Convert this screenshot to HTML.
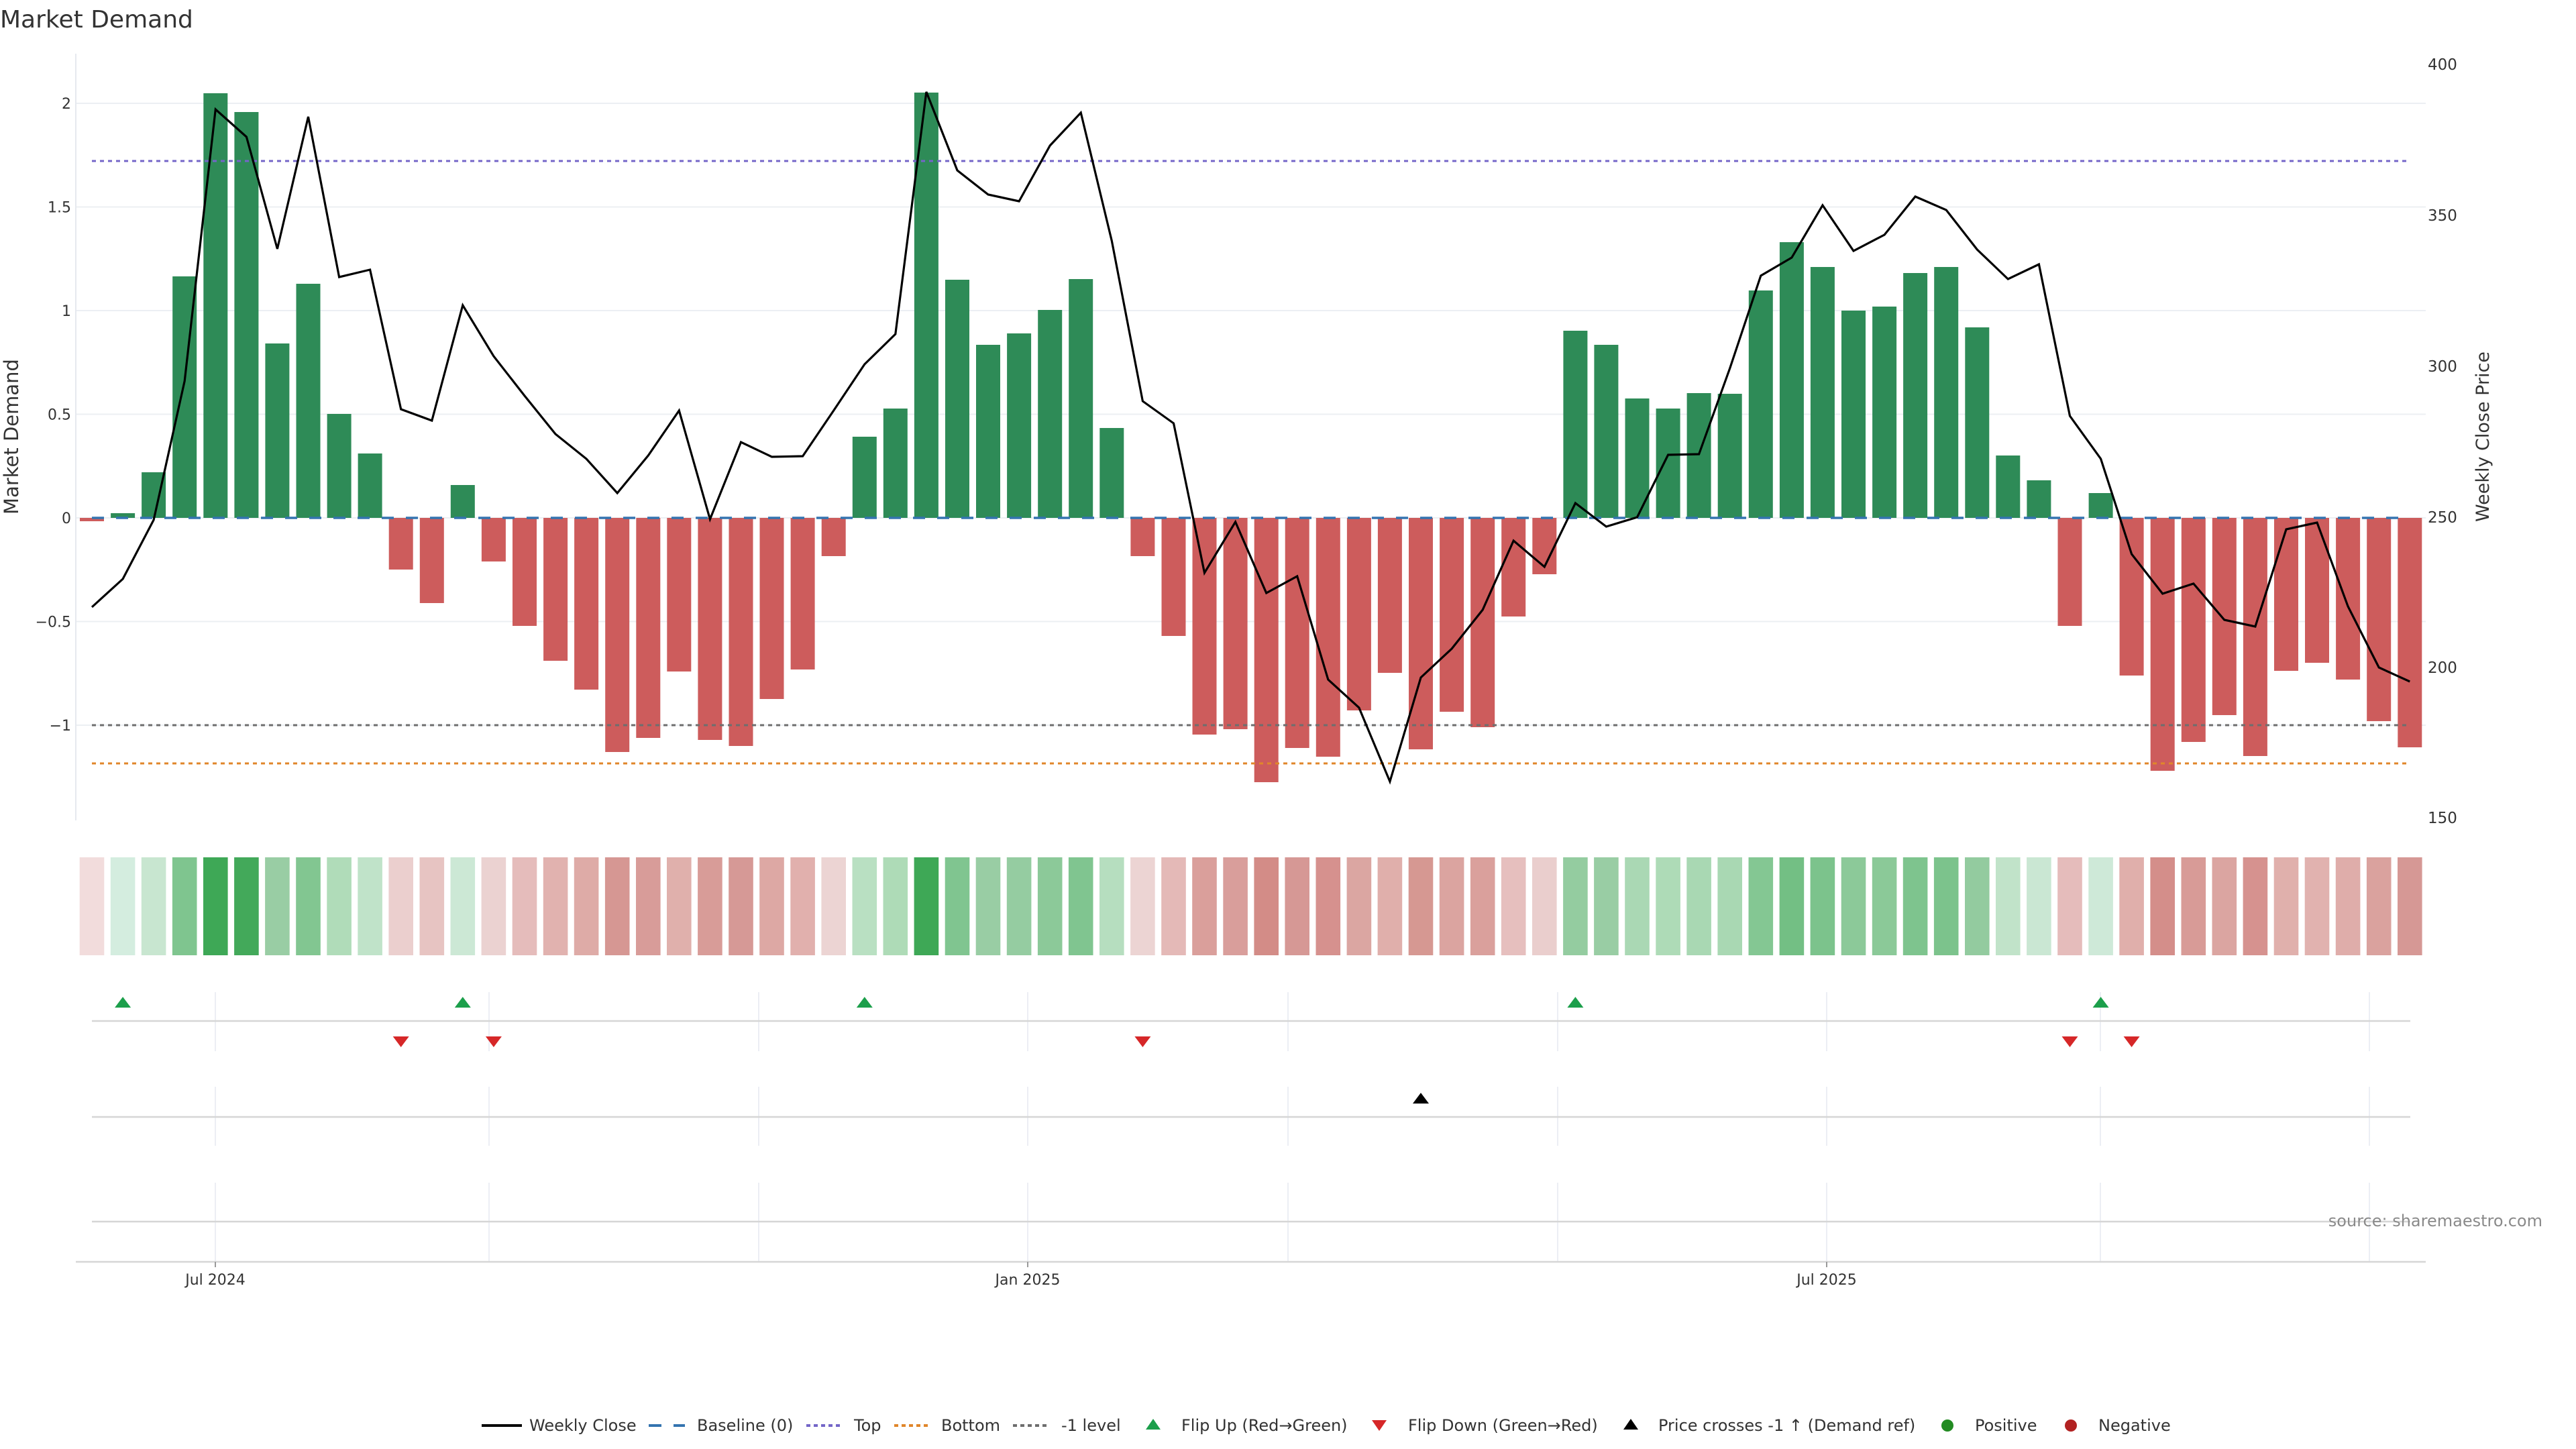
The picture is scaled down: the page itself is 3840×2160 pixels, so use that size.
<!DOCTYPE html>
<html>
<head>
<meta charset="utf-8">
<style>
html,body{margin:0;padding:0;background:#fff;}
svg{display:block;}
text{font-family:"DejaVu Sans","Liberation Sans",sans-serif;fill:#333;}
</style>
</head>
<body>
<svg width="3840" height="2160" viewBox="0 0 3840 2160" xmlns="http://www.w3.org/2000/svg">
<rect x="0" y="0" width="3840" height="2160" fill="#fff"/>

<text x="0" y="41" font-size="36">Market Demand</text>

<g stroke="#eceff3" stroke-width="2">
<line x1="113" y1="154" x2="3616" y2="154"/>
<line x1="113" y1="308.5" x2="3616" y2="308.5"/>
<line x1="113" y1="463" x2="3616" y2="463"/>
<line x1="113" y1="617.5" x2="3616" y2="617.5"/>
<line x1="113" y1="772" x2="3616" y2="772"/>
<line x1="113" y1="926.5" x2="3616" y2="926.5"/>
<line x1="113" y1="1081" x2="3616" y2="1081"/>
</g>
<line x1="113" y1="80" x2="113" y2="1223" stroke="#e6e9ef" stroke-width="2"/>

<g font-size="22" text-anchor="end">
<text x="106" y="162">2</text>
<text x="106" y="316.5">1.5</text>
<text x="106" y="471">1</text>
<text x="106" y="625.5">0.5</text>
<text x="106" y="780">0</text>
<text x="106" y="934.5">−0.5</text>
<text x="106" y="1089">−1</text>
</g>
<text transform="translate(27,651) rotate(-90)" font-size="29" text-anchor="middle">Market Demand</text>

<g font-size="23">
<text x="3619" y="104">400</text>
<text x="3619" y="329">350</text>
<text x="3619" y="554">300</text>
<text x="3619" y="779">250</text>
<text x="3619" y="1003">200</text>
<text x="3619" y="1227">150</text>
</g>
<text transform="translate(3710,651) rotate(-90)" font-size="27" text-anchor="middle">Weekly Close Price</text>

<g fill="#2e8b57">
<rect x="165.1" y="765" width="36" height="7"/>
<rect x="211.1" y="704" width="36" height="68"/>
<rect x="257.2" y="412" width="36" height="360"/>
<rect x="303.3" y="139" width="36" height="633"/>
<rect x="349.4" y="167" width="36" height="605"/>
<rect x="395.4" y="512" width="36" height="260"/>
<rect x="441.5" y="423" width="36" height="349"/>
<rect x="487.6" y="617" width="36" height="155"/>
<rect x="533.6" y="676" width="36" height="96"/>
<rect x="671.8" y="723" width="36" height="49"/>
<rect x="1270.8" y="651" width="36" height="121"/>
<rect x="1316.8" y="609" width="36" height="163"/>
<rect x="1362.9" y="138" width="36" height="634"/>
<rect x="1409.0" y="417" width="36" height="355"/>
<rect x="1455.0" y="514" width="36" height="258"/>
<rect x="1501.1" y="497" width="36" height="275"/>
<rect x="1547.2" y="462" width="36" height="310"/>
<rect x="1593.2" y="416" width="36" height="356"/>
<rect x="1639.3" y="638" width="36" height="134"/>
<rect x="2330.4" y="493" width="36" height="279"/>
<rect x="2376.4" y="514" width="36" height="258"/>
<rect x="2422.5" y="594" width="36" height="178"/>
<rect x="2468.6" y="609" width="36" height="163"/>
<rect x="2514.6" y="586" width="36" height="186"/>
<rect x="2560.7" y="587" width="36" height="185"/>
<rect x="2606.8" y="433" width="36" height="339"/>
<rect x="2652.9" y="361" width="36" height="411"/>
<rect x="2698.9" y="398" width="36" height="374"/>
<rect x="2745.0" y="463" width="36" height="309"/>
<rect x="2791.1" y="457" width="36" height="315"/>
<rect x="2837.1" y="407" width="36" height="365"/>
<rect x="2883.2" y="398" width="36" height="374"/>
<rect x="2929.3" y="488" width="36" height="284"/>
<rect x="2975.3" y="679" width="36" height="93"/>
<rect x="3021.4" y="716" width="36" height="56"/>
<rect x="3113.6" y="735" width="36" height="37"/>
</g>
<g fill="#cd5c5c">
<rect x="119.0" y="772" width="36" height="5"/>
<rect x="579.7" y="772" width="36" height="77"/>
<rect x="625.8" y="772" width="36" height="127"/>
<rect x="717.9" y="772" width="36" height="65"/>
<rect x="764.0" y="772" width="36" height="161"/>
<rect x="810.1" y="772" width="36" height="213"/>
<rect x="856.1" y="772" width="36" height="256"/>
<rect x="902.2" y="772" width="36" height="349"/>
<rect x="948.3" y="772" width="36" height="328"/>
<rect x="994.3" y="772" width="36" height="229"/>
<rect x="1040.4" y="772" width="36" height="331"/>
<rect x="1086.5" y="772" width="36" height="340"/>
<rect x="1132.5" y="772" width="36" height="270"/>
<rect x="1178.6" y="772" width="36" height="226"/>
<rect x="1224.7" y="772" width="36" height="57"/>
<rect x="1685.4" y="772" width="36" height="57"/>
<rect x="1731.5" y="772" width="36" height="176"/>
<rect x="1777.5" y="772" width="36" height="323"/>
<rect x="1823.6" y="772" width="36" height="315"/>
<rect x="1869.7" y="772" width="36" height="394"/>
<rect x="1915.7" y="772" width="36" height="343"/>
<rect x="1961.8" y="772" width="36" height="356"/>
<rect x="2007.9" y="772" width="36" height="287"/>
<rect x="2053.9" y="772" width="36" height="231"/>
<rect x="2100.0" y="772" width="36" height="345"/>
<rect x="2146.1" y="772" width="36" height="289"/>
<rect x="2192.2" y="772" width="36" height="312"/>
<rect x="2238.2" y="772" width="36" height="147"/>
<rect x="2284.3" y="772" width="36" height="84"/>
<rect x="3067.5" y="772" width="36" height="161"/>
<rect x="3159.6" y="772" width="36" height="235"/>
<rect x="3205.7" y="772" width="36" height="377"/>
<rect x="3251.8" y="772" width="36" height="334"/>
<rect x="3297.8" y="772" width="36" height="294"/>
<rect x="3343.9" y="772" width="36" height="355"/>
<rect x="3390.0" y="772" width="36" height="228"/>
<rect x="3436.0" y="772" width="36" height="216"/>
<rect x="3482.1" y="772" width="36" height="241"/>
<rect x="3528.2" y="772" width="36" height="303"/>
<rect x="3574.3" y="772" width="36" height="342"/>
</g>

<line x1="137" y1="240" x2="3593" y2="240" stroke="#7466c8" stroke-width="3" stroke-dasharray="6 6"/>
<line x1="137" y1="1081" x2="3593" y2="1081" stroke="#6e6e6e" stroke-width="3" stroke-dasharray="6 6"/>
<line x1="137" y1="1138" x2="3593" y2="1138" stroke="#e0862a" stroke-width="3" stroke-dasharray="6 6"/>
<line x1="137" y1="772" x2="3593" y2="772" stroke="#3474b0" stroke-width="3.5" stroke-dasharray="18 18"/>

<polyline fill="none" stroke="#000" stroke-width="3.2" points="137,905 183.1,863 229.1,775 275.2,568 321.3,163 367.4,204 413.4,371 459.5,174 505.6,413 551.6,402 597.7,610 643.8,627 689.8,455 735.9,531 782,590 828,647 874.1,684 920.2,735 966.3,679 1012.3,612 1058.4,774 1104.5,659 1150.5,681 1196.6,680 1242.7,612 1288.8,543 1334.8,498 1380.9,137 1427,254 1473,290 1519.1,300 1565.2,217 1611.2,168 1657.3,359 1703.4,598 1749.5,631 1795.5,854 1841.6,778 1887.7,884 1933.7,859 1979.8,1013 2025.9,1055 2071.9,1165 2118,1010 2164.1,967 2210.2,909 2256.2,806 2302.3,845 2348.4,750 2394.4,785 2440.5,771 2486.6,678 2532.6,677 2578.7,549 2624.8,411 2670.9,384 2716.9,306 2763,374 2809.1,350 2855.1,293 2901.2,313 2947.3,372 2993.3,416 3039.4,394 3085.5,620 3131.6,684 3177.6,826 3223.7,885 3269.8,870 3315.8,924 3361.9,934 3408,789 3454,779 3500.1,904 3546.2,995 3592.3,1016"/>

<g>
<rect x="118.7" y="1278" width="36.6" height="146" fill="#f2dcdc"/>
<rect x="164.8" y="1278" width="36.6" height="146" fill="#d4eddf"/>
<rect x="210.8" y="1278" width="36.6" height="146" fill="#c8e6d0"/>
<rect x="256.9" y="1278" width="36.6" height="146" fill="#7fc58f"/>
<rect x="303.0" y="1278" width="36.6" height="146" fill="#3ea856"/>
<rect x="349.1" y="1278" width="36.6" height="146" fill="#43a95a"/>
<rect x="395.1" y="1278" width="36.6" height="146" fill="#99cda4"/>
<rect x="441.2" y="1278" width="36.6" height="146" fill="#82c691"/>
<rect x="487.3" y="1278" width="36.6" height="146" fill="#b0dcb9"/>
<rect x="533.3" y="1278" width="36.6" height="146" fill="#c0e3c9"/>
<rect x="579.4" y="1278" width="36.6" height="146" fill="#ebcfce"/>
<rect x="625.5" y="1278" width="36.6" height="146" fill="#e7c4c2"/>
<rect x="671.5" y="1278" width="36.6" height="146" fill="#cce8d5"/>
<rect x="717.6" y="1278" width="36.6" height="146" fill="#ebd2d1"/>
<rect x="763.7" y="1278" width="36.6" height="146" fill="#e5bcbb"/>
<rect x="809.8" y="1278" width="36.6" height="146" fill="#e1b2af"/>
<rect x="855.8" y="1278" width="36.6" height="146" fill="#deaba7"/>
<rect x="901.9" y="1278" width="36.6" height="146" fill="#d69793"/>
<rect x="948.0" y="1278" width="36.6" height="146" fill="#d89c99"/>
<rect x="994.0" y="1278" width="36.6" height="146" fill="#e0b0ac"/>
<rect x="1040.1" y="1278" width="36.6" height="146" fill="#d89c98"/>
<rect x="1086.2" y="1278" width="36.6" height="146" fill="#d69996"/>
<rect x="1132.2" y="1278" width="36.6" height="146" fill="#dda8a4"/>
<rect x="1178.3" y="1278" width="36.6" height="146" fill="#e1b0ad"/>
<rect x="1224.4" y="1278" width="36.6" height="146" fill="#ecd4d3"/>
<rect x="1270.5" y="1278" width="36.6" height="146" fill="#b9e0c2"/>
<rect x="1316.5" y="1278" width="36.6" height="146" fill="#aedbb7"/>
<rect x="1362.6" y="1278" width="36.6" height="146" fill="#3ea856"/>
<rect x="1408.7" y="1278" width="36.6" height="146" fill="#80c590"/>
<rect x="1454.7" y="1278" width="36.6" height="146" fill="#99cda4"/>
<rect x="1500.8" y="1278" width="36.6" height="146" fill="#95cca1"/>
<rect x="1546.9" y="1278" width="36.6" height="146" fill="#8cc999"/>
<rect x="1592.9" y="1278" width="36.6" height="146" fill="#80c590"/>
<rect x="1639.0" y="1278" width="36.6" height="146" fill="#b6debf"/>
<rect x="1685.1" y="1278" width="36.6" height="146" fill="#ecd4d3"/>
<rect x="1731.2" y="1278" width="36.6" height="146" fill="#e4b9b7"/>
<rect x="1777.2" y="1278" width="36.6" height="146" fill="#da9f9b"/>
<rect x="1823.3" y="1278" width="36.6" height="146" fill="#d99e9b"/>
<rect x="1869.4" y="1278" width="36.6" height="146" fill="#d38c87"/>
<rect x="1915.4" y="1278" width="36.6" height="146" fill="#d69895"/>
<rect x="1961.5" y="1278" width="36.6" height="146" fill="#d6918e"/>
<rect x="2007.6" y="1278" width="36.6" height="146" fill="#dba6a2"/>
<rect x="2053.6" y="1278" width="36.6" height="146" fill="#e0afab"/>
<rect x="2099.7" y="1278" width="36.6" height="146" fill="#d69892"/>
<rect x="2145.8" y="1278" width="36.6" height="146" fill="#dba4a0"/>
<rect x="2191.9" y="1278" width="36.6" height="146" fill="#daa09c"/>
<rect x="2237.9" y="1278" width="36.6" height="146" fill="#e6bfbe"/>
<rect x="2284.0" y="1278" width="36.6" height="146" fill="#eacecd"/>
<rect x="2330.1" y="1278" width="36.6" height="146" fill="#94cca0"/>
<rect x="2376.1" y="1278" width="36.6" height="146" fill="#99cda4"/>
<rect x="2422.2" y="1278" width="36.6" height="146" fill="#aad8b4"/>
<rect x="2468.3" y="1278" width="36.6" height="146" fill="#aedbb7"/>
<rect x="2514.3" y="1278" width="36.6" height="146" fill="#a9d8b3"/>
<rect x="2560.4" y="1278" width="36.6" height="146" fill="#a9d8b3"/>
<rect x="2606.5" y="1278" width="36.6" height="146" fill="#84c793"/>
<rect x="2652.6" y="1278" width="36.6" height="146" fill="#73bf84"/>
<rect x="2698.6" y="1278" width="36.6" height="146" fill="#7cc38c"/>
<rect x="2744.7" y="1278" width="36.6" height="146" fill="#8cc999"/>
<rect x="2790.8" y="1278" width="36.6" height="146" fill="#8bc998"/>
<rect x="2836.8" y="1278" width="36.6" height="146" fill="#7ec48e"/>
<rect x="2882.9" y="1278" width="36.6" height="146" fill="#7cc38c"/>
<rect x="2929.0" y="1278" width="36.6" height="146" fill="#93cb9f"/>
<rect x="2975.0" y="1278" width="36.6" height="146" fill="#c1e3c9"/>
<rect x="3021.1" y="1278" width="36.6" height="146" fill="#cae7d3"/>
<rect x="3067.2" y="1278" width="36.6" height="146" fill="#e5bcbb"/>
<rect x="3113.3" y="1278" width="36.6" height="146" fill="#cee9d8"/>
<rect x="3159.3" y="1278" width="36.6" height="146" fill="#e0afab"/>
<rect x="3205.4" y="1278" width="36.6" height="146" fill="#d48e8a"/>
<rect x="3251.5" y="1278" width="36.6" height="146" fill="#d89b97"/>
<rect x="3297.5" y="1278" width="36.6" height="146" fill="#dba5a1"/>
<rect x="3343.6" y="1278" width="36.6" height="146" fill="#d6928f"/>
<rect x="3389.7" y="1278" width="36.6" height="146" fill="#e0b0ac"/>
<rect x="3435.7" y="1278" width="36.6" height="146" fill="#e1b2af"/>
<rect x="3481.8" y="1278" width="36.6" height="146" fill="#dfadaa"/>
<rect x="3527.9" y="1278" width="36.6" height="146" fill="#daa29e"/>
<rect x="3574.0" y="1278" width="36.6" height="146" fill="#d69895"/>
</g>

<g stroke="#eceef4" stroke-width="2">
<line x1="321" y1="1479" x2="321" y2="1567"/><line x1="729" y1="1479" x2="729" y2="1567"/><line x1="1131" y1="1479" x2="1131" y2="1567"/><line x1="1532" y1="1479" x2="1532" y2="1567"/><line x1="1920" y1="1479" x2="1920" y2="1567"/><line x1="2322" y1="1479" x2="2322" y2="1567"/><line x1="2723" y1="1479" x2="2723" y2="1567"/><line x1="3131" y1="1479" x2="3131" y2="1567"/><line x1="3532" y1="1479" x2="3532" y2="1567"/>
<line x1="321" y1="1620" x2="321" y2="1708"/><line x1="729" y1="1620" x2="729" y2="1708"/><line x1="1131" y1="1620" x2="1131" y2="1708"/><line x1="1532" y1="1620" x2="1532" y2="1708"/><line x1="1920" y1="1620" x2="1920" y2="1708"/><line x1="2322" y1="1620" x2="2322" y2="1708"/><line x1="2723" y1="1620" x2="2723" y2="1708"/><line x1="3131" y1="1620" x2="3131" y2="1708"/><line x1="3532" y1="1620" x2="3532" y2="1708"/>
<line x1="321" y1="1763" x2="321" y2="1881"/><line x1="729" y1="1763" x2="729" y2="1881"/><line x1="1131" y1="1763" x2="1131" y2="1881"/><line x1="1532" y1="1763" x2="1532" y2="1881"/><line x1="1920" y1="1763" x2="1920" y2="1881"/><line x1="2322" y1="1763" x2="2322" y2="1881"/><line x1="2723" y1="1763" x2="2723" y2="1881"/><line x1="3131" y1="1763" x2="3131" y2="1881"/><line x1="3532" y1="1763" x2="3532" y2="1881"/>
</g>
<g stroke="#d6d6d6" stroke-width="2.5">
<line x1="137" y1="1522" x2="3593" y2="1522"/>
<line x1="137" y1="1665" x2="3593" y2="1665"/>
<line x1="137" y1="1821" x2="3593" y2="1821"/>
<line x1="113" y1="1881" x2="3616" y2="1881"/>
</g>

<g fill="#1c9f4b">
<polygon points="171.1,1502 195.1,1502 183.1,1486"/>
<polygon points="677.8,1502 701.8,1502 689.8,1486"/>
<polygon points="1276.8,1502 1300.8,1502 1288.8,1486"/>
<polygon points="2336.4,1502 2360.4,1502 2348.4,1486"/>
<polygon points="3119.6,1502 3143.6,1502 3131.6,1486"/>
</g>
<g fill="#d62728">
<polygon points="585.7,1545 609.7,1545 597.7,1561"/>
<polygon points="723.9,1545 747.9,1545 735.9,1561"/>
<polygon points="1691.4,1545 1715.4,1545 1703.4,1561"/>
<polygon points="3073.5,1545 3097.5,1545 3085.5,1561"/>
<polygon points="3165.6,1545 3189.6,1545 3177.6,1561"/>
</g>
<polygon points="2106,1645 2130,1645 2118,1629" fill="#000"/>

<g stroke="#9a9a9a" stroke-width="2">
<line x1="321" y1="1881" x2="321" y2="1889"/>
<line x1="1532" y1="1881" x2="1532" y2="1889"/>
<line x1="2723" y1="1881" x2="2723" y2="1889"/>
</g>
<g font-size="22" text-anchor="middle">
<text x="321" y="1915">Jul 2024</text>
<text x="1532" y="1915">Jan 2025</text>
<text x="2723" y="1915">Jul 2025</text>
</g>

<text x="3790" y="1828" font-size="24" text-anchor="end" style="fill:#8a8a8a">source: sharemaestro.com</text>

<g font-size="24">
<line x1="718" y1="2125" x2="778" y2="2125" stroke="#000" stroke-width="4"/>
<text x="789" y="2133">Weekly Close</text>
<line x1="967" y1="2125" x2="986" y2="2125" stroke="#3474b0" stroke-width="4"/>
<line x1="1004" y1="2125" x2="1021" y2="2125" stroke="#3474b0" stroke-width="4"/>
<text x="1039" y="2133">Baseline (0)</text>
<line x1="1202" y1="2125" x2="1256" y2="2125" stroke="#7466c8" stroke-width="4" stroke-dasharray="6 5"/>
<text x="1273" y="2133">Top</text>
<line x1="1333" y1="2125" x2="1387" y2="2125" stroke="#e0862a" stroke-width="4" stroke-dasharray="6 5"/>
<text x="1403" y="2133">Bottom</text>
<line x1="1510" y1="2125" x2="1565" y2="2125" stroke="#6e6e6e" stroke-width="4" stroke-dasharray="6 5"/>
<text x="1582" y="2133">-1 level</text>
<polygon points="1708,2131 1730,2131 1719,2115" fill="#1c9f4b"/>
<text x="1761" y="2133">Flip Up (Red→Green)</text>
<polygon points="2045,2117 2067,2117 2056,2133" fill="#d62728"/>
<text x="2099" y="2133">Flip Down (Green→Red)</text>
<polygon points="2420,2131 2442,2131 2431,2115" fill="#000"/>
<text x="2472" y="2133">Price crosses -1 ↑ (Demand ref)</text>
<circle cx="2903" cy="2125" r="9" fill="#228b22"/>
<text x="2944" y="2133">Positive</text>
<circle cx="3087" cy="2125" r="9" fill="#b22222"/>
<text x="3128" y="2133">Negative</text>
</g>
</svg>
</body>
</html>
